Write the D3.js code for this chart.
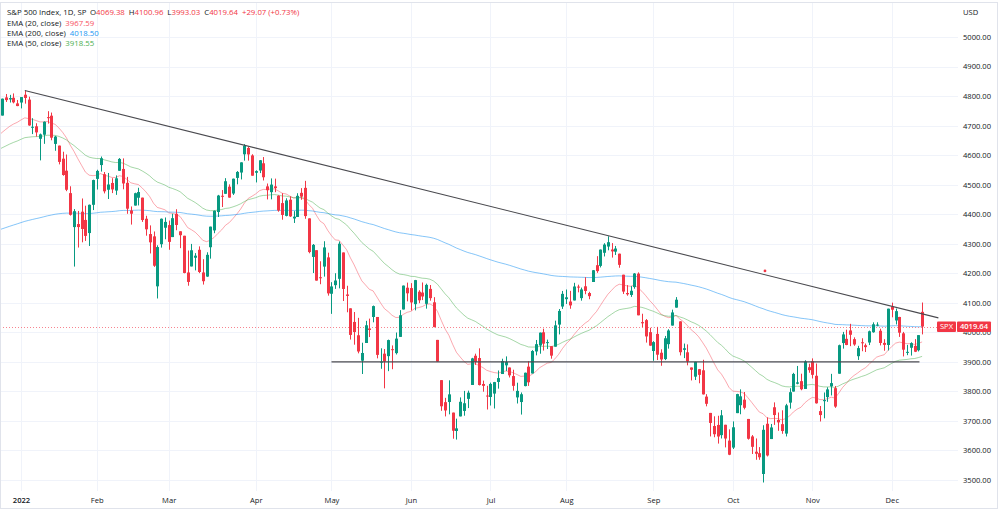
<!DOCTYPE html>
<html>
<head>
<meta charset="utf-8">
<script src="https://cdn.jsdelivr.net/npm/d3@7"></script>
<style>
  body { margin: 0; background: #fff; }
  svg { display: block; }
  text { font-family: "Open Sans", sans-serif; }
</style>
</head>
<body>
<div id="chart"></div>
<script>
// daily bars, 27 Dec 2021 .. 13 Dec 2022
const dates = [
  "2021-12-27","2021-12-28","2021-12-29","2021-12-30","2021-12-31",
  "2022-01-03","2022-01-04","2022-01-05","2022-01-06","2022-01-07","2022-01-10","2022-01-11","2022-01-12","2022-01-13","2022-01-14",
  "2022-01-18","2022-01-19","2022-01-20","2022-01-21","2022-01-24","2022-01-25","2022-01-26","2022-01-27","2022-01-28","2022-01-31",
  "2022-02-01","2022-02-02","2022-02-03","2022-02-04","2022-02-07","2022-02-08","2022-02-09","2022-02-10","2022-02-11","2022-02-14",
  "2022-02-15","2022-02-16","2022-02-17","2022-02-18","2022-02-22","2022-02-23","2022-02-24","2022-02-25","2022-02-28",
  "2022-03-01","2022-03-02","2022-03-03","2022-03-04","2022-03-07","2022-03-08","2022-03-09","2022-03-10","2022-03-11","2022-03-14",
  "2022-03-15","2022-03-16","2022-03-17","2022-03-18","2022-03-21","2022-03-22","2022-03-23","2022-03-24","2022-03-25","2022-03-28",
  "2022-03-29","2022-03-30","2022-03-31",
  "2022-04-01","2022-04-04","2022-04-05","2022-04-06","2022-04-07","2022-04-08","2022-04-11","2022-04-12","2022-04-13","2022-04-14",
  "2022-04-18","2022-04-19","2022-04-20","2022-04-21","2022-04-22","2022-04-25","2022-04-26","2022-04-27","2022-04-28","2022-04-29",
  "2022-05-02","2022-05-03","2022-05-04","2022-05-05","2022-05-06","2022-05-09","2022-05-10","2022-05-11","2022-05-12","2022-05-13",
  "2022-05-16","2022-05-17","2022-05-18","2022-05-19","2022-05-20","2022-05-23","2022-05-24","2022-05-25","2022-05-26","2022-05-27","2022-05-31",
  "2022-06-01","2022-06-02","2022-06-03","2022-06-06","2022-06-07","2022-06-08","2022-06-09","2022-06-10","2022-06-13","2022-06-14",
  "2022-06-15","2022-06-16","2022-06-17","2022-06-21","2022-06-22","2022-06-23","2022-06-24","2022-06-27","2022-06-28","2022-06-29","2022-06-30",
  "2022-07-01","2022-07-05","2022-07-06","2022-07-07","2022-07-08","2022-07-11","2022-07-12","2022-07-13","2022-07-14","2022-07-15",
  "2022-07-18","2022-07-19","2022-07-20","2022-07-21","2022-07-22","2022-07-25","2022-07-26","2022-07-27","2022-07-28","2022-07-29",
  "2022-08-01","2022-08-02","2022-08-03","2022-08-04","2022-08-05","2022-08-08","2022-08-09","2022-08-10","2022-08-11","2022-08-12",
  "2022-08-15","2022-08-16","2022-08-17","2022-08-18","2022-08-19","2022-08-22","2022-08-23","2022-08-24","2022-08-25","2022-08-26",
  "2022-08-29","2022-08-30","2022-08-31",
  "2022-09-01","2022-09-02","2022-09-06","2022-09-07","2022-09-08","2022-09-09","2022-09-12","2022-09-13","2022-09-14","2022-09-15",
  "2022-09-16","2022-09-19","2022-09-20","2022-09-21","2022-09-22","2022-09-23","2022-09-26","2022-09-27","2022-09-28","2022-09-29","2022-09-30",
  "2022-10-03","2022-10-04","2022-10-05","2022-10-06","2022-10-07","2022-10-10","2022-10-11","2022-10-12","2022-10-13","2022-10-14",
  "2022-10-17","2022-10-18","2022-10-19","2022-10-20","2022-10-21","2022-10-24","2022-10-25","2022-10-26","2022-10-27","2022-10-28","2022-10-31",
  "2022-11-01","2022-11-02","2022-11-03","2022-11-04","2022-11-07","2022-11-08","2022-11-09","2022-11-10","2022-11-11","2022-11-14",
  "2022-11-15","2022-11-16","2022-11-17","2022-11-18","2022-11-21","2022-11-22","2022-11-23","2022-11-25","2022-11-28","2022-11-29","2022-11-30",
  "2022-12-01","2022-12-02","2022-12-05","2022-12-06","2022-12-07","2022-12-08","2022-12-09","2022-12-12","2022-12-13"
];

const opens = [
  4733.99,4795.49,4788.64,4794.23,4775.21,
  4778.14,4804.51,4787.99,4693.39,4697.66,4655.34,4669.14,4728.59,4733.56,4637.99,4632.24,4588.03,4547.35,4471.38,4356.32,4366.64,4408.43,4380.58,4336.19,4431.79,
  4519.57,4566.39,4535.41,4482.79,4505.75,4480.02,4547.00,4553.24,4506.27,4412.61,4429.28,4455.75,4456.06,4384.57,4332.74,4324.93,4155.77,4298.38,4354.17,
  4363.14,4322.56,4401.31,4342.12,4327.01,4202.66,4223.10,4252.55,4279.50,4202.75,4188.82,4288.14,4345.11,4407.34,4462.40,4469.10,4493.10,4469.98,4522.91,4541.09,4602.86,4624.20,4599.02,
  4540.32,4547.97,4572.45,4494.17,4474.65,4494.15,4462.64,4437.59,4394.30,4449.12,4385.63,4390.63,4472.26,4489.17,4385.83,4255.34,4278.14,4186.52,4222.58,4253.75,
  4130.61,4159.78,4181.18,4270.43,4128.17,4081.27,4035.18,3990.08,3903.95,3963.90,4013.02,4052.00,4051.98,3899.00,3927.76,3919.42,3942.94,3929.59,3984.60,4077.43,4151.09,
  4149.78,4095.41,4137.57,4134.72,4096.47,4147.12,4101.65,3974.39,3838.15,3763.52,3764.05,3728.18,3665.90,3715.31,3733.89,3774.71,3821.75,3920.76,3913.00,3825.09,3785.99,
  3781.00,3792.61,3831.98,3858.85,3888.26,3880.94,3851.95,3779.67,3763.99,3818.00,3883.79,3860.73,3935.32,3955.47,4000.16,3965.72,3953.22,3951.43,4026.13,4087.33,
  4112.38,4104.21,4107.96,4154.85,4115.87,4155.93,4133.11,4170.44,4227.40,4225.02,4269.37,4290.46,4280.40,4273.13,4266.31,4195.08,4133.09,4126.55,4153.26,4198.74,4034.58,4041.25,4000.67,
  3936.73,3994.66,3930.89,3909.43,3959.94,4022.94,4083.67,4037.12,3940.73,3932.41,3880.95,3849.91,3875.23,3871.40,3782.36,3727.14,3682.72,3686.44,3651.94,3687.01,3633.48,
  3609.78,3726.46,3753.25,3771.97,3706.74,3647.51,3595.86,3590.83,3520.37,3690.41,3638.65,3746.26,3703.11,3689.05,3657.10,3762.01,3799.44,3825.97,3834.69,3808.26,3881.85,
  3901.79,3852.90,3733.25,3766.98,3780.71,3817.02,3810.94,3859.89,3963.72,3977.97,4006.41,3976.82,3919.26,3966.39,3956.23,3965.51,4000.30,4023.34,4005.36,3964.19,3957.18,
  4087.14,4040.17,4052.02,3996.63,3933.28,3947.79,3954.17,3939.29,4069.38
];

const highs = [
  4791.49,4807.02,4804.06,4808.93,4786.83,
  4796.64,4818.62,4797.70,4725.01,4707.95,4673.02,4714.13,4748.83,4744.13,4665.13,4632.24,4611.55,4602.11,4494.52,4417.35,4411.01,4453.23,4428.74,4432.72,4516.89,
  4550.49,4595.31,4542.88,4539.66,4521.86,4531.32,4590.03,4588.92,4526.33,4426.22,4472.77,4489.55,4456.06,4394.60,4362.12,4341.51,4294.73,4385.34,4388.84,
  4378.45,4401.48,4416.78,4342.12,4327.01,4276.94,4299.40,4268.28,4291.01,4247.57,4271.05,4357.86,4412.67,4465.40,4481.75,4522.00,4501.07,4520.58,4546.03,4575.65,4637.30,4627.77,4603.07,
  4548.70,4583.50,4593.45,4503.94,4521.16,4520.41,4464.35,4471.00,4453.92,4460.46,4410.31,4471.03,4488.29,4512.94,4385.83,4299.02,4278.14,4240.71,4308.45,4269.68,
  4169.81,4200.10,4307.66,4270.43,4157.69,4081.27,4068.82,4049.09,3964.80,4038.88,4046.46,4090.72,4051.98,3945.96,3943.42,3975.30,3955.68,3999.33,4075.14,4158.49,4168.34,
  4166.54,4177.51,4142.67,4168.78,4164.86,4160.14,4119.10,3974.39,3838.15,3778.18,3837.56,3728.18,3707.71,3779.65,3801.79,3802.58,3913.65,3927.72,3945.86,3836.50,3818.99,
  3829.82,3832.19,3870.91,3910.63,3918.50,3880.94,3873.41,3829.44,3796.41,3863.62,3902.44,3939.81,3974.13,3999.29,4012.44,3975.30,3953.22,4039.56,4078.95,4140.15,
  4144.95,4140.47,4167.66,4161.29,4151.58,4186.62,4137.30,4211.03,4257.91,4280.47,4301.79,4325.28,4302.18,4292.53,4266.31,4195.08,4159.77,4156.56,4200.54,4203.04,4062.99,4044.98,4015.37,
  3970.23,4018.43,3942.55,3987.89,4010.50,4076.81,4119.28,4037.12,3961.94,3959.14,3880.95,3900.45,3876.01,3907.07,3790.68,3727.14,3715.67,3717.53,3736.74,3687.01,3671.44,
  3698.35,3791.92,3806.91,3797.93,3706.74,3652.17,3640.66,3611.42,3685.41,3712.00,3689.73,3762.79,3728.58,3736.00,3757.89,3810.74,3862.85,3886.15,3859.95,3905.42,3893.73,
  3911.79,3894.44,3750.59,3796.34,3813.95,3859.40,3818.20,3958.33,4001.48,4008.97,4028.84,3983.09,3954.33,3979.89,3962.00,4005.88,4033.78,4034.02,4012.27,3976.77,4080.11,
  4100.51,4080.48,4052.45,4001.51,3957.57,3966.38,3977.02,3990.71,4100.96
];

const lows = [
  4733.99,4780.04,4778.08,4775.33,4765.75,
  4758.17,4774.27,4699.44,4671.26,4662.74,4582.24,4638.27,4706.71,4650.29,4614.75,4568.70,4530.20,4477.95,4395.34,4222.62,4287.11,4304.80,4309.50,4292.46,4414.02,
  4483.53,4544.32,4470.39,4451.50,4471.47,4465.40,4547.00,4484.31,4401.41,4364.84,4429.28,4429.68,4373.81,4327.22,4267.11,4221.51,4114.65,4286.83,4315.12,
  4279.54,4322.56,4345.56,4284.98,4199.85,4157.87,4223.10,4209.80,4200.49,4161.72,4187.90,4249.50,4335.65,4390.57,4424.30,4469.10,4455.81,4465.17,4501.07,4517.69,4581.32,4581.32,4530.41,
  4507.57,4539.21,4514.17,4450.04,4450.30,4474.60,4408.38,4381.34,4392.70,4390.77,4370.30,4390.63,4448.76,4384.47,4267.62,4200.82,4175.04,4162.90,4188.63,4124.28,
  4062.51,4147.08,4148.91,4106.01,4067.91,3975.48,3958.17,3928.82,3858.87,3963.90,3983.99,4033.93,3911.91,3876.58,3810.32,3868.56,3875.13,3925.03,3984.60,4077.43,4104.88,
  4073.85,4074.37,4098.67,4109.18,4080.19,4107.20,4017.17,3900.16,3734.30,3715.31,3722.30,3639.77,3636.87,3715.31,3717.69,3743.52,3821.75,3889.66,3820.14,3799.02,3738.67,
  3752.10,3742.06,3809.37,3858.85,3869.34,3847.22,3802.36,3759.07,3721.56,3817.18,3818.63,3860.73,3922.03,3927.64,3938.24,3943.46,3910.74,3951.43,3992.97,4079.22,
  4096.02,4079.81,4107.96,4135.42,4107.31,4128.97,4112.09,4170.44,4201.41,4219.78,4256.90,4277.77,4253.08,4261.98,4218.70,4129.86,4124.03,4119.97,4147.59,4057.66,4017.42,3965.21,3954.53,
  3903.65,3906.21,3886.75,3906.03,3944.81,4022.94,4083.67,3921.74,3912.71,3888.28,3837.08,3838.50,3827.54,3789.49,3749.45,3647.47,3644.76,3623.29,3640.61,3610.40,3584.13,
  3604.93,3726.46,3722.66,3739.22,3636.66,3588.10,3568.45,3568.45,3491.58,3579.68,3638.65,3686.53,3666.51,3656.44,3647.42,3741.65,3799.44,3824.07,3803.79,3808.26,3863.18,
  3843.80,3758.68,3698.15,3708.84,3764.70,3786.28,3744.22,3859.89,3944.82,3956.40,3953.17,3954.34,3906.54,3935.98,3933.34,3956.88,3998.66,4020.76,3955.77,3937.65,3938.58,
  4050.87,4026.63,3984.49,3918.39,3922.68,3921.29,3933.04,3935.30,3993.03
];

const closes = [
  4791.19,4786.35,4793.06,4778.73,4766.18,
  4796.56,4793.54,4700.58,4696.05,4677.03,4670.29,4713.07,4726.35,4659.03,4662.85,4577.11,4532.76,4482.73,4397.94,4410.13,4356.45,4349.93,4326.51,4431.85,4515.55,
  4546.54,4589.38,4477.44,4500.53,4483.87,4521.54,4587.18,4504.08,4418.64,4401.67,4471.07,4475.01,4380.26,4348.87,4304.76,4225.50,4288.70,4384.65,4373.94,
  4306.26,4386.54,4363.49,4328.87,4201.09,4170.70,4277.88,4259.52,4204.31,4173.11,4262.45,4357.86,4411.67,4463.12,4461.18,4511.61,4456.24,4520.16,4543.06,4575.52,4631.60,4602.45,4530.41,
  4545.86,4582.64,4525.12,4481.15,4500.21,4488.28,4412.53,4397.45,4446.59,4392.59,4391.69,4462.21,4459.45,4393.66,4271.78,4296.12,4175.20,4183.96,4287.50,4131.93,
  4155.38,4175.48,4300.17,4146.87,4123.34,3991.24,4001.05,3935.18,3930.08,4023.89,4008.01,4088.85,3923.68,3900.79,3901.36,3973.75,3941.48,3978.73,4057.84,4158.24,4132.15,
  4101.23,4176.82,4108.54,4121.43,4160.68,4115.77,4017.82,3900.86,3749.63,3735.48,3789.99,3666.77,3674.84,3764.79,3759.89,3795.73,3911.74,3900.11,3821.55,3818.83,3785.38,
  3825.33,3831.39,3845.08,3902.62,3899.38,3854.43,3818.80,3801.78,3790.38,3863.16,3830.85,3936.69,3959.90,3998.95,3961.63,3966.84,3921.05,4023.61,4072.43,4130.29,
  4118.63,4091.19,4155.17,4151.94,4145.19,4140.06,4122.47,4210.24,4207.27,4280.15,4297.14,4305.20,4274.04,4283.74,4228.48,4137.99,4128.73,4140.77,4199.12,4057.66,4030.61,3986.16,3955.00,
  3966.85,3924.26,3908.19,3979.87,4006.18,4067.36,4110.41,3932.69,3946.01,3901.35,3873.33,3899.89,3855.93,3789.93,3757.99,3693.23,3655.04,3647.29,3719.04,3640.47,3585.62,
  3678.43,3790.93,3783.28,3744.52,3639.66,3612.39,3588.84,3577.03,3669.91,3583.07,3677.95,3719.98,3695.16,3665.78,3752.75,3797.34,3859.11,3830.60,3807.30,3901.06,3871.98,
  3856.10,3759.69,3719.89,3770.55,3806.80,3828.11,3748.57,3956.37,3992.93,3957.25,3991.73,3958.79,3946.56,3965.34,3949.94,4003.58,4027.26,4026.12,3963.94,3957.63,4080.11,
  4076.57,4071.70,3998.84,3941.26,3933.92,3963.51,3934.38,3990.56,4019.64
];

// axis labels
const priceTicks = [3500, 3600, 3700, 3800, 3900, 4000, 4100, 4200, 4300, 4400, 4500, 4600, 4700, 4800, 4900, 5000];
const monthLabels = ["2022", "Feb", "Mar", "Apr", "May", "Jun", "Jul", "Aug", "Sep", "Oct", "Nov", "Dec"];

// indicators (seed = value on the bar before the first one shown)
const emaPeriods = [20, 200, 50];
const emaSeeds = [4665, 4346, 4618];
const emaNames = ["EMA (20, close)", "EMA (200, close)", "EMA (50, close)"];
const emaLegendValues = ["3967.59", "4018.50", "3918.55"];
const emaColors = ["#f7525f", "#2196f3", "#4caf50"];

// drawings: [bar index, price]
const trendLine = [[6, 4818.62], [247.3, 4049]];
const supportLine = [[87, 3900], [242.3, 3900]];
const alertDot = [[201.5, 4208]];

const symbolName = "S&P 500 Index, 1D, SP";
const ohlcLabels = ["O", "H", "L", "C"];
const ohlcValues = ["4069.38", "4100.96", "3993.03", "4019.64"];
const changeText = "+29.07 (+0.73%)";
const lastPrice = 4019.64;
const tickerLabel = "SPX";

const UP = "#089981", DOWN = "#f23645", TEXT = "#131722", GRID = "#f0f3fa";
const W = 1000, H = 512;
const paneRight = 958, paneTop = 3, paneBottom = 488;
const FONT = 7.6, LEGEND_FONT = 7.8;

const svg = d3.select("#chart").append("svg").attr("width", W).attr("height", H);
svg.append("rect").attr("width", W).attr("height", H).attr("fill", "#fff");

const x = d3.scaleLinear().domain([0, dates.length - 1]).range([2.1, 922.1]);
const y = d3.scaleLinear().domain([3500, 5000]).range([480, 37]);

// first bar of each month
const monthIdx = dates.map((d, i) => i).filter(i => i > 0 && dates[i].slice(0, 7) !== dates[i - 1].slice(0, 7));

svg.append("defs").append("clipPath").attr("id", "pane")
  .append("rect").attr("x", 0).attr("y", paneTop).attr("width", paneRight).attr("height", paneBottom - paneTop);

// grid
const grid = svg.append("g");
grid.selectAll(".hg").data(priceTicks).join("line")
  .attr("x1", 0).attr("x2", paneRight)
  .attr("y1", d => Math.round(y(d)) + 0.5).attr("y2", d => Math.round(y(d)) + 0.5)
  .attr("stroke", GRID);
grid.selectAll(".vg").data(monthIdx).join("line")
  .attr("x1", d => Math.round(x(d)) + 0.5).attr("x2", d => Math.round(x(d)) + 0.5)
  .attr("y1", paneTop).attr("y2", 491)
  .attr("stroke", GRID);

const pane = svg.append("g").attr("clip-path", "url(#pane)");

// EMA lines
const line = d3.line().x(d => x(d[0])).y(d => y(d[1]));
emaPeriods.forEach((p, k) => {
  const a = 2 / (p + 1);
  let prev = emaSeeds[k];
  const pts = [[-1, prev]];
  closes.forEach((c, i) => { prev = c * a + prev * (1 - a); pts.push([i, prev]); });
  pane.append("path").datum(pts).attr("d", line)
    .attr("fill", "none").attr("stroke", emaColors[k]).attr("stroke-width", 1)
    .attr("stroke-opacity", k === 1 ? 0.55 : 0.5);
});

// last price dotted line
pane.append("line")
  .attr("x1", 0).attr("x2", 937)
  .attr("y1", Math.round(y(lastPrice)) + 0.5).attr("y2", Math.round(y(lastPrice)) + 0.5)
  .attr("stroke", "#f7848f").attr("stroke-dasharray", "1 2")
  .attr("shape-rendering", "crispEdges");

// candles
const bars = dates.map((d, i) => ({ i, o: opens[i], h: highs[i], l: lows[i], c: closes[i] }));
const cg = pane.selectAll("g.candle").data(bars).join("g").attr("class", "candle");
cg.append("line")
  .attr("x1", d => Math.round(x(d.i)) + 0.5).attr("x2", d => Math.round(x(d.i)) + 0.5)
  .attr("y1", d => y(d.h)).attr("y2", d => y(d.l))
  .attr("stroke", d => d.c >= d.o ? UP : DOWN).attr("stroke-width", 1);
cg.append("rect")
  .attr("x", d => Math.round(x(d.i)) - 1)
  .attr("width", 3)
  .attr("y", d => y(Math.max(d.o, d.c)))
  .attr("height", d => Math.max(1, Math.abs(y(d.o) - y(d.c))))
  .attr("fill", d => d.c >= d.o ? UP : DOWN);

// drawings
[trendLine, supportLine].forEach(seg => {
  pane.append("path").datum(seg).attr("d", line)
    .attr("fill", "none").attr("stroke", "#4a4a4f").attr("stroke-width", 1.1);
});
pane.selectAll(".dot").data(alertDot).join("circle")
  .attr("cx", d => x(d[0])).attr("cy", d => y(d[1])).attr("r", 1.4).attr("fill", DOWN);

// price axis (the 4000.00 label sits under the last-price tag, as in the original)
const ly = y(lastPrice);
const yAxis = svg.append("g").attr("transform", "translate(963,0)")
  .call(d3.axisRight(y).tickValues(priceTicks).tickFormat(d3.format(".2f")).tickSize(0).tickPadding(0));
yAxis.select(".domain").remove();
yAxis.selectAll("text").attr("font-size", FONT).attr("font-family", "'Open Sans', sans-serif").attr("fill", TEXT);
svg.append("text").attr("x", 963).attr("y", 14.5).attr("font-size", FONT).attr("fill", TEXT).text("USD");

// time axis
const xAxis = svg.append("g").attr("transform", "translate(0,495)")
  .call(d3.axisBottom(x).tickValues(monthIdx)
    .tickFormat(i => monthLabels[+dates[i].slice(5, 7) - 1]).tickSize(0).tickPadding(3));
xAxis.select(".domain").remove();
xAxis.selectAll("text").attr("font-size", FONT).attr("font-family", "'Open Sans', sans-serif").attr("fill", TEXT)
  .attr("font-weight", (d, k) => k === 0 ? 600 : null);

// last price tags
svg.append("rect").attr("x", 937).attr("y", ly - 5).attr("width", 19).attr("height", 10.5).attr("rx", 1).attr("fill", DOWN);
svg.append("text").attr("x", 946.5).attr("y", ly + 2.7).attr("text-anchor", "middle")
  .attr("font-size", FONT).attr("fill", "#fff").text(tickerLabel);
svg.append("rect").attr("x", 957).attr("y", ly - 5).attr("width", 34).attr("height", 10.5).attr("rx", 1).attr("fill", DOWN);
svg.append("text").attr("x", 974).attr("y", ly + 2.7).attr("text-anchor", "middle")
  .attr("font-size", FONT).attr("font-weight", 600).attr("fill", "#fff").text(d3.format(".2f")(lastPrice));

// legend
const legend = svg.append("g").attr("font-size", LEGEND_FONT);
function row(yb, parts) {
  let cx = 7;
  parts.forEach(([txt, col, gap]) => {
    const t = legend.append("text").attr("x", cx).attr("y", yb).attr("fill", col).text(txt);
    cx += t.node().getComputedTextLength() + (gap || 0);
  });
}
const head = [[symbolName, TEXT, 3.5]];
ohlcLabels.forEach((l, k) => { head.push([l, TEXT, 0]); head.push([ohlcValues[k], DOWN, 4]); });
head.push([changeText, DOWN, 0]);
row(15, head);
emaNames.forEach((n, k) => row(26 + k * 10.2, [[n, TEXT, 4], [emaLegendValues[k], emaColors[k], 0]]));

// frame
svg.append("rect").attr("x", 0.5).attr("y", 2.5).attr("width", 997).attr("height", 506)
  .attr("fill", "none").attr("stroke", "#e0e3eb");
</script>
</body>
</html>
